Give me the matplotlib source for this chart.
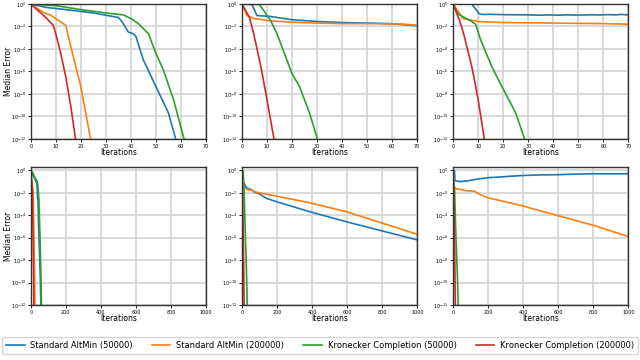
import numpy as np
import matplotlib
matplotlib.use("Agg")
import matplotlib.pyplot as plt

# log10(median error), per column (same runs, top row is 0-70 zoom)
c1_blue_it = [0, 6, 14, 25, 35, 36.5, 39, 41, 42, 45, 50, 55, 58.5]
c1_blue = [0, -0.3, -0.5, -0.8, -1.2, -1.6, -2.5, -2.65, -2.9, -5.0, -7.35, -9.7, -12.5]
c1_orange_it = [0, 3, 5, 8, 10, 14, 16, 20, 24.3]
c1_orange = [0, -0.44, -0.74, -1.0, -1.3, -1.9, -3.8, -7.35, -12.5]
c1_green_it = [0, 10, 20, 30, 37, 40, 43, 47, 50, 53, 57, 61.8]
c1_green = [0, -0.15, -0.5, -0.8, -0.97, -1.3, -1.75, -2.65, -4.4, -5.9, -8.5, -12.5]
c1_red_it = [0, 3, 6, 9, 10, 12, 14, 16, 18.2]
c1_red = [0, -0.6, -1.2, -1.9, -2.65, -4.4, -6.5, -9.1, -12.5]

c2_blue_it = [0, 4, 6, 11, 20, 30, 40, 50, 60, 70, 100, 140, 200, 390, 600, 800, 1000]
c2_blue = [0, -0.05, -1.03, -1.1, -1.4, -1.56, -1.65, -1.7, -1.76, -1.94, -2.1, -2.5, -2.8, -3.7, -4.6, -5.4, -6.2]
c2_orange_it = [0, 2, 5, 11, 20, 30, 40, 55, 65, 70, 100, 200, 390, 600, 800, 1000]
c2_orange = [0, -1.03, -1.3, -1.5, -1.62, -1.7, -1.75, -1.75, -1.8, -1.9, -2.0, -2.3, -2.9, -3.7, -4.7, -5.7]
c2_green_it = [0, 7, 10, 11.5, 14, 20, 23, 27, 30.8]
c2_green = [0, -0.05, -1.0, -1.5, -2.65, -6.2, -7.35, -9.7, -12.5]
c2_red_it = [0, 3, 4.7, 7.6, 10, 13.2]
c2_red = [0, -1.2, -2.65, -5.6, -8.5, -12.5]

c3_blue_it = [0, 7.5, 10.5, 12, 15, 20, 25, 30, 35, 38, 42, 45, 50, 55, 58, 62, 65, 67, 70,
              100, 150, 200, 300, 400, 500, 600, 700, 800, 900, 1000]
c3_blue = [0, -0.02, -0.9, -0.93, -0.92, -0.95, -0.96, -0.97, -1.0, -0.97, -1.0, -0.97, -0.99,
           -0.96, -0.98, -0.95, -0.97, -0.93, -0.97,
           -0.88, -0.75, -0.65, -0.55, -0.45, -0.4, -0.38, -0.33, -0.3, -0.3, -0.3]
c3_orange_it = [0, 4, 10, 20, 40, 60, 70, 120, 160, 200, 380, 590, 800, 1000]
c3_orange = [0, -1.3, -1.56, -1.65, -1.7, -1.75, -1.8, -1.85, -2.2, -2.45, -3.1, -4.0, -4.9, -5.9]
c3_green_it = [0, 2, 7, 9, 11, 15.5, 19.5, 25, 29.3]
c3_green = [0, -0.9, -1.5, -1.8, -3.2, -5.6, -7.35, -9.7, -12.5]
c3_red_it = [0, 2.6, 4.2, 7.5, 10, 12.8]
c3_red = [0, -1.5, -2.65, -5.6, -8.5, -12.5]

labels = ["Standard AltMin (50000)", "Standard AltMin (200000)",
          "Kronecker Completion (50000)", "Kronecker Completion (200000)"]
colors = ["#1f77b4", "#ff7f0e", "#2ca02c", "#d62728"]

columns = [
    [(c1_blue_it, c1_blue), (c1_orange_it, c1_orange), (c1_green_it, c1_green), (c1_red_it, c1_red)],
    [(c2_blue_it, c2_blue), (c2_orange_it, c2_orange), (c2_green_it, c2_green), (c2_red_it, c2_red)],
    [(c3_blue_it, c3_blue), (c3_orange_it, c3_orange), (c3_green_it, c3_green), (c3_red_it, c3_red)],
]

fig = plt.figure(figsize=(6.4, 3.6), dpi=100)
lefts = [0.048, 0.378, 0.708]
axw = 0.274
rows = [(0.614, 0.375, 70, 10, 1.0), (0.153, 0.383, 1000, 200, 2.0)]

yt = [10.0 ** k for k in range(0, -13, -2)]
ytl = [r"$10^{%d}$" % k for k in range(0, -13, -2)]

handles = None
for r, (bot, h, xmax, xstep, ytop) in enumerate(rows):
    for c, left in enumerate(lefts):
        ax = fig.add_axes([left, bot, axw, h])
        lines = []
        for (it, lv), col, lab in zip(columns[c], colors, labels):
            ln, = ax.plot(it, 10.0 ** np.array(lv), color=col, lw=1.2, label=lab)
            lines.append(ln)
        if handles is None:
            handles = lines
        ax.set_yscale("log")
        ax.set_ylim(1e-12, ytop)
        ax.set_xlim(0, xmax)
        ax.set_yticks(yt)
        ax.set_yticklabels(ytl)
        ax.minorticks_off()
        ax.set_xticks(np.arange(0, xmax + 1, xstep))
        ax.tick_params(labelsize=3.5, length=2, width=0.6, pad=1.5)
        ax.grid(True, color="#d0d0d0", lw=1.1)
        ax.set_axisbelow(True)
        for s in ax.spines.values():
            s.set_color("#333333")
            s.set_linewidth(1.0)
        hpx = h * 360
        ax.set_xlabel("Iterations", fontsize=5.5, va="center")
        ax.xaxis.set_label_coords(0.5, -14.0 / hpx)
        if c == 0:
            ax.set_ylabel("Median Error", fontsize=5.5, va="center")
            ax.yaxis.set_label_coords(-22.0 / (axw * 640), 0.5)

fig.legend(handles, labels, loc="lower center", bbox_to_anchor=(0.5, 0.005), ncol=4,
           fontsize=6, frameon=True, edgecolor="#cccccc", handlelength=2.2,
           handletextpad=0.7, columnspacing=2.3, borderpad=0.5)

fig.savefig("out.png", dpi=100)
